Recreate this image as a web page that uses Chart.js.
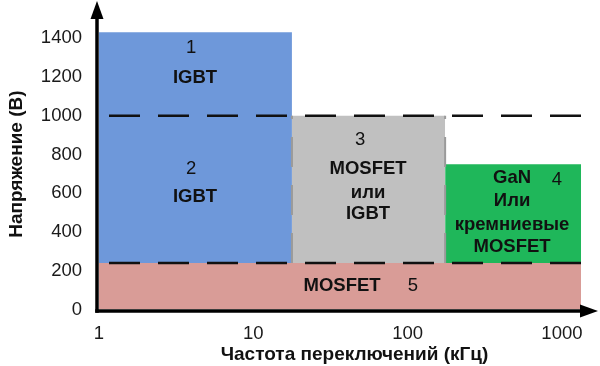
<!DOCTYPE html>
<html><head><meta charset="utf-8">
<script src="https://cdn.jsdelivr.net/npm/chart.js@4/dist/chart.umd.min.js"></script>
<style>html,body{margin:0;padding:0;background:#fff}#wrap{width:600px;height:366px;position:relative}</style>
</head><body><div id="wrap"><canvas id="c"></canvas></div>
<script>
// ---- data ----
const xTicks = [1, 10, 100, 1000];
const yTicks = [0, 200, 400, 600, 800, 1000, 1200, 1400];
const regionNames = ['IGBT (1, 2)', 'MOSFET или IGBT (3)', 'GaN или кремниевые MOSFET (4)', 'MOSFET (5)'];
const regionFreqFrom = [1, 17.8, 175, 1];
const regionFreqTo = [17.8, 175, 1330, 1330];
const regionVoltFrom = [240, 240, 240, 0];
const regionVoltTo = [1430, 1000, 750, 240];
const boundaryVolts = [1000, 240];
const boundaryFreqFrom = 1;
const boundaryFreqTo = 1330;
const labelTexts = ['1', 'IGBT', '2', 'IGBT', '3', 'MOSFET', 'или', 'IGBT', 'GaN', '4', 'Или', 'кремниевые', 'MOSFET', 'MOSFET', '5'];
const labelFreqs = [3.95, 4.19, 3.95, 4.19, 49.2, 55.4, 55.4, 55.4, 475, 929, 475, 475, 475, 37.6, 108];
const labelVolts = [1348, 1197, 725, 579, 875, 725, 600, 491, 678, 668, 558, 439, 325, 122, 122];
const xTitle = 'Частота переключений (кГц)';
const yTitle = 'Напряжение (В)';

// ---- styles ----
const regionColors = ['#6E98DA', '#C0C0C0', '#1FB75A', '#D99C97'];
const FONT = '"Liberation Sans", Arial, sans-serif';

const datasets = [];
boundaryVolts.forEach((v) => {
  datasets.push({
    label: 'boundary ' + v,
    data: [{x: boundaryFreqFrom, y: v}, {x: boundaryFreqTo, y: v}],
    borderColor: '#111', borderWidth: 2.5, borderDash: [31, 18], borderDashOffset: 39,
    pointRadius: 0, fill: false, order: 1
  });
});
// dashed side edges of region 3
[regionFreqFrom[1], regionFreqTo[1]].forEach((f) => {
  datasets.push({
    label: 'edge ' + f,
    data: [{x: f, y: regionVoltFrom[1]}, {x: f, y: regionVoltTo[1]}],
    borderColor: '#9a9a9a', borderWidth: 2, borderDash: [30, 18],
    pointRadius: 0, fill: false, order: 2
  });
});
regionNames.forEach((n, i) => {
  datasets.push({
    label: n,
    data: [{x: regionFreqFrom[i], y: regionVoltTo[i]}, {x: regionFreqTo[i], y: regionVoltTo[i]}],
    borderWidth: 0, borderColor: 'rgba(0,0,0,0)', backgroundColor: regionColors[i],
    pointRadius: 0, fill: regionVoltFrom[i] === 0 ? 'origin' : {value: regionVoltFrom[i]},
    order: 10 + (i === 3 ? 1 : 0)
  });
});

const labelPlugin = {
  id: 'labels',
  afterDatasetsDraw(chart) {
    const ctx = chart.ctx, xs = chart.scales.x, ys = chart.scales.y;
    ctx.save();
    ctx.fillStyle = '#111';
    ctx.textAlign = 'center';
    ctx.textBaseline = 'middle';
    labelTexts.forEach((t, i) => {
      const numeric = /^\d+$/.test(t);
      ctx.font = (numeric ? '' : 'bold ') + '18.5px ' + FONT;
      ctx.fillText(t, xs.getPixelForValue(labelFreqs[i]), ys.getPixelForValue(labelVolts[i]));
    });
    ctx.restore();
  },
  afterDraw(chart) {
    const ctx = chart.ctx, a = chart.chartArea;
    const ax = a.left - 2, ay = a.bottom + 1.5;
    ctx.save();
    ctx.strokeStyle = '#000'; ctx.fillStyle = '#000'; ctx.lineWidth = 3.5;
    ctx.beginPath(); ctx.moveTo(ax, ay + 1.75); ctx.lineTo(ax, 16); ctx.stroke();
    ctx.beginPath(); ctx.moveTo(ax, 1); ctx.lineTo(ax - 6.5, 19); ctx.lineTo(ax + 6.5, 19); ctx.closePath(); ctx.fill();
    ctx.beginPath(); ctx.moveTo(ax - 1.75, ay); ctx.lineTo(584, ay); ctx.stroke();
    ctx.beginPath(); ctx.moveTo(598, ay); ctx.lineTo(580, ay - 6.5); ctx.lineTo(580, ay + 6.5); ctx.closePath(); ctx.fill();
    // x axis title
    ctx.font = 'bold 19px ' + FONT;
    ctx.textAlign = 'center';
    ctx.textBaseline = 'alphabetic';
    ctx.fillStyle = '#111';
    ctx.fillText(xTitle, (a.left + a.right) / 2 + 10, 360);
    ctx.restore();
  }
};

new Chart(document.getElementById('c'), {
  type: 'line',
  data: {datasets},
  options: {
    responsive: true, maintainAspectRatio: false, animation: false,
    layout: {padding: {top: 18.75, right: 10, bottom: 0, left: 0}},
    plugins: {legend: {display: false}, tooltip: {enabled: false}},
    scales: {
      x: {
        type: 'logarithmic', min: 1, max: 1520,
        afterBuildTicks: (s) => { s.ticks = xTicks.map((v) => ({value: v})); },
        afterFit: (s) => { s.height = 56.5; s.paddingTop = 0; s.paddingBottom = 0; },
        grid: {display: false, drawTicks: false}, border: {display: false},
        ticks: {callback: (v) => String(v), autoSkip: false, maxRotation: 0, padding: 13.5,
          color: '#1a1a1a', font: {family: FONT, size: 18.5}},
        title: {display: false}
      },
      y: {
        type: 'linear', min: 0, max: 1500,
        afterBuildTicks: (s) => { s.ticks = yTicks.map((v) => ({value: v})); },
        afterFit: (s) => { s.width = 99; s.paddingTop = 0; s.paddingBottom = 0; },
        grid: {display: false, drawTicks: false}, border: {display: false},
        ticks: {callback: (v) => String(v), padding: 17, color: '#1a1a1a', font: {family: FONT, size: 18.5}},
        title: {display: true, text: yTitle, color: '#111',
          font: {family: FONT, size: 19, weight: 'bold'}, padding: {top: 5, bottom: 0}}
      }
    }
  },
  plugins: [labelPlugin]
});
</script>
</body></html>
